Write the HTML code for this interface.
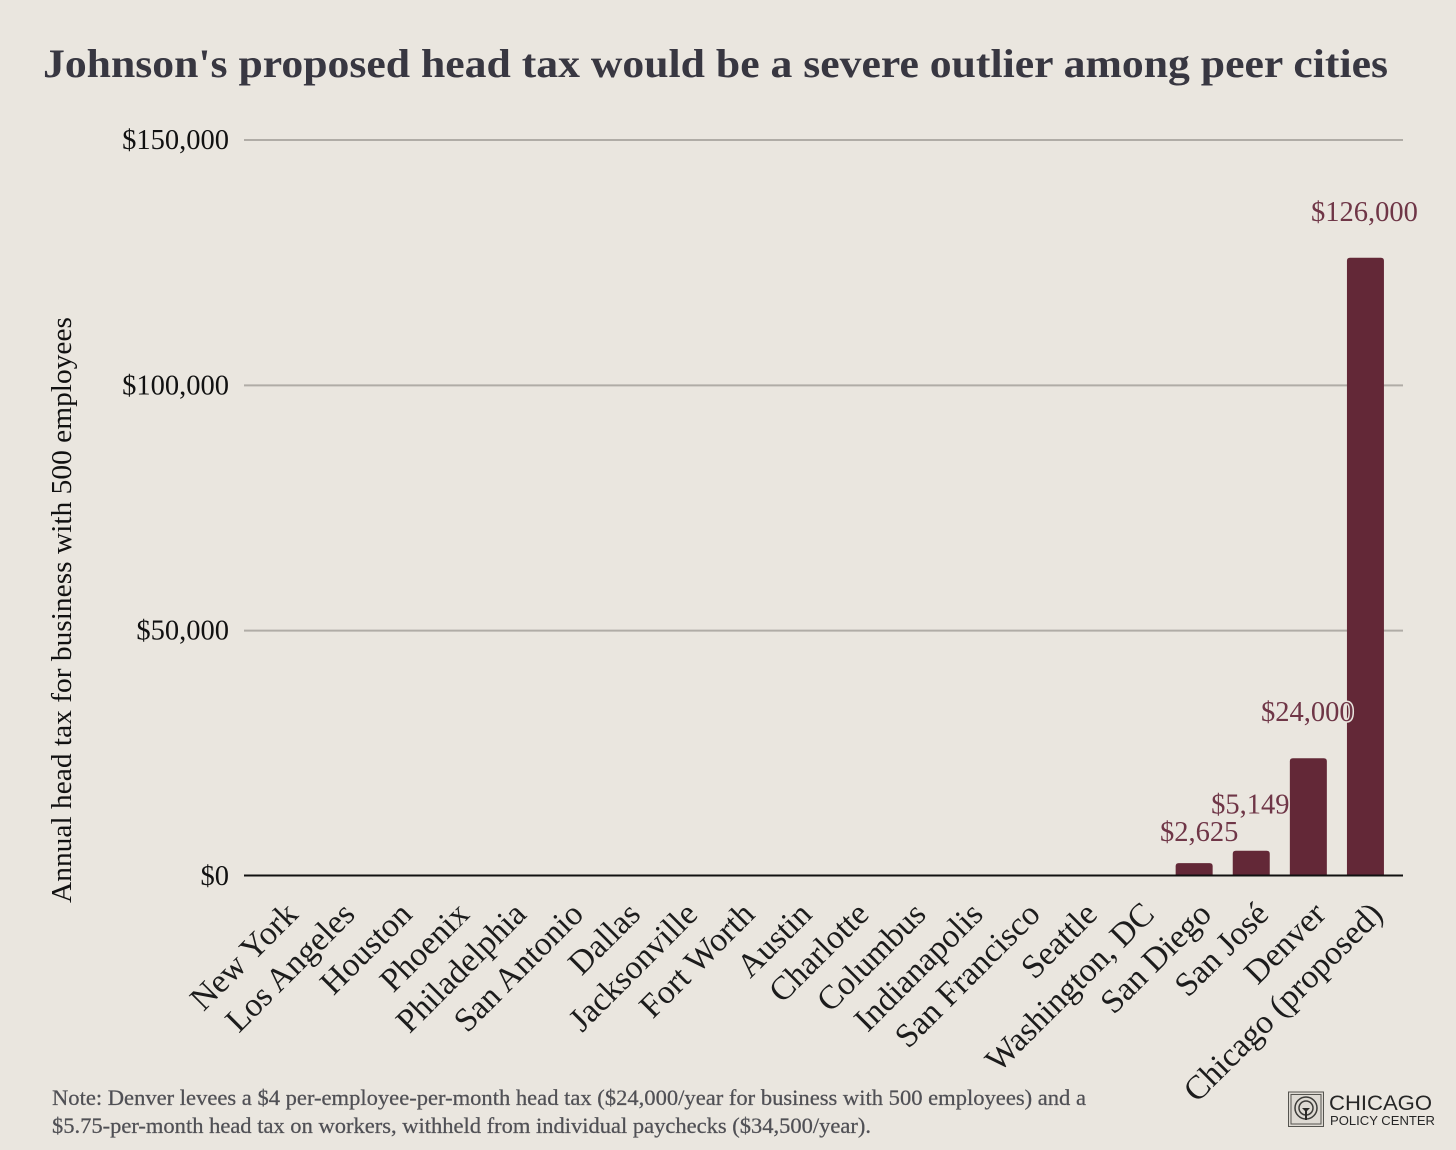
<!DOCTYPE html>
<html lang="en">
<head>
<meta charset="utf-8">
<title>Johnson's proposed head tax would be a severe outlier among peer cities</title>
<style>
html,body{margin:0;padding:0;background:#eae6df;}
svg{display:block;}
text{font-family:"Liberation Serif",serif;}
</style>
</head>
<body>
<svg id="chart" width="1456" height="1150" viewBox="0 0 1456 1150" xmlns="http://www.w3.org/2000/svg">
  <rect x="0" y="0" width="1456" height="1150" fill="#eae6df"/>
  <text x="43" y="77" font-size="40" font-weight="700" fill="#383741" textLength="1345" lengthAdjust="spacingAndGlyphs">Johnson's proposed head tax would be a severe outlier among peer cities</text>
  <text transform="translate(71 903) rotate(-90)" font-size="28" fill="#111" textLength="586" lengthAdjust="spacingAndGlyphs">Annual head tax for business with 500 employees</text>
  <g id="grid"></g>
  <g id="yticks"></g>
  <g id="bars"></g>
  <g id="baseline"></g>
  <g id="values"></g>
  <g id="xticks"></g>
  <text x="52" y="1105" font-size="22" font-weight="400" fill="#505055" stroke="#505055" stroke-width="0.25" textLength="1034" lengthAdjust="spacingAndGlyphs">Note: Denver levees a $4 per-employee-per-month head tax ($24,000/year for business with 500 employees) and a</text>
  <text x="52" y="1133" font-size="22" font-weight="400" fill="#505055" stroke="#505055" stroke-width="0.25" textLength="819" lengthAdjust="spacingAndGlyphs">$5.75-per-month head tax on workers, withheld from individual paychecks ($34,500/year).</text>
  <g>
    <rect x="1288.5" y="1092" width="35" height="34.500" fill="#dedad3" stroke="#55544f" stroke-width="1"/>
    <rect x="1291" y="1094.500" width="30" height="29.500" fill="none" stroke="#55544f" stroke-width="1"/>
    <circle cx="1306" cy="1108" r="11" fill="none" stroke="#3d3c39" stroke-width="1.500"/>
    <circle cx="1306" cy="1108" r="7" fill="none" stroke="#3d3c39" stroke-width="1.500"/>
    <path d="M1302 1108h8l-3 3v9h-2v-9z" fill="#2b2a28"/>
    <text x="1329" y="1110" font-size="21.500" fill="#262626" style="font-family:'Liberation Sans',sans-serif" textLength="103" lengthAdjust="spacingAndGlyphs">CHICAGO</text>
    <text x="1330" y="1125" font-size="13" fill="#262626" style="font-family:'Liberation Sans',sans-serif" textLength="105" lengthAdjust="spacingAndGlyphs">POLICY CENTER</text>
  </g>
</svg>
<script>
const categories = ["New York","Los Angeles","Houston","Phoenix","Philadelphia","San Antonio","Dallas","Jacksonville","Fort Worth","Austin","Charlotte","Columbus","Indianapolis","San Francisco","Seattle","Washington, DC","San Diego","San José","Denver","Chicago (proposed)"];
const taxValues = [0,0,0,0,0,0,0,0,0,0,0,0,0,0,0,0,2625,5149,24000,126000];
const valueLabels = ["","","","","","","","","","","","","","","","","$2,625","$5,149","$24,000","$126,000"];
const yTickValues = [0,50000,100000,150000];
const yTickLabels = ["$0","$50,000","$100,000","$150,000"];

const NS = "http://www.w3.org/2000/svg";
const plot = {left:244, right:1403, top:140, bottom:876, bandLeft:252, bandRight:1394, yMax:150000};
const bandStep = (plot.bandRight - plot.bandLeft) / categories.length;
const barWidth = 37;
function xScale(i){ return plot.bandLeft + bandStep * (i + 0.5); }
function yScale(v){ return plot.bottom - (v / plot.yMax) * (plot.bottom - plot.top); }
function make(tag, parentId){
  const el = document.createElementNS(NS, tag);
  document.getElementById(parentId).appendChild(el);
  return el;
}

yTickValues.forEach(function(v, i){
  if (v !== 0) {
    const line = make("line", "grid");
    
    
    line.setAttribute("x1", plot.left);
    line.setAttribute("x2", plot.right);
    line.setAttribute("y1", yScale(v));
    line.setAttribute("y2", yScale(v));
    line.setAttribute("stroke", "#b0aca6");
    line.setAttribute("stroke-width", "2");
  }
  const label = make("text", "yticks");
  
  
  label.setAttribute("x", 229);
  label.setAttribute("y", yScale(v) + 9);
  label.setAttribute("text-anchor", "end");
  label.setAttribute("font-size", "28.500");
  label.setAttribute("fill", "#111");
  label.textContent = yTickLabels[i];
});

taxValues.forEach(function(v, i){
  if (v <= 0) return;
  const cx = xScale(i), top = yScale(v), r = 3, hw = barWidth / 2;
  const bar = make("path", "bars");
  
  
  bar.setAttribute("d", "M" + (cx - hw) + " " + plot.bottom + "V" + (top + r) + "Q" + (cx - hw) + " " + top + " " + (cx - hw + r) + " " + top + "H" + (cx + hw - r) + "Q" + (cx + hw) + " " + top + " " + (cx + hw) + " " + (top + r) + "V" + plot.bottom + "Z");
  bar.setAttribute("fill", "#632837");
});

const axis = make("line", "baseline");


axis.setAttribute("x1", plot.left);
axis.setAttribute("x2", plot.right);
axis.setAttribute("y1", plot.bottom - 0.5);
axis.setAttribute("y2", plot.bottom - 0.5);
axis.setAttribute("stroke", "#111111");
axis.setAttribute("stroke-width", "2");

taxValues.forEach(function(v, i){
  if (v <= 0) return;
  const nudged = v < 5000;
  const label = make("text", "values");
  
  
  label.setAttribute("x", xScale(i) + (nudged ? 5 : -1));
  label.setAttribute("y", yScale(v) - (nudged ? 22 : 37));
  label.setAttribute("text-anchor", "middle");
  label.setAttribute("font-size", "28.500");
  label.setAttribute("fill", "#6f3647");
  label.setAttribute("stroke", "#eae6df");
  label.setAttribute("stroke-width", "3");
  label.setAttribute("paint-order", "stroke");
  label.textContent = valueLabels[i];
});

categories.forEach(function(name, i){
  const label = make("text", "xticks");
  
  
  const ax = xScale(i) + 19, ay = 916;
  label.setAttribute("transform", "translate(" + ax + " " + ay + ") rotate(-45)");
  label.setAttribute("text-anchor", "end");
  label.setAttribute("font-size", "33.500");
  label.setAttribute("fill", "#1c1c1c");
  label.textContent = name;
});
</script>
</body>
</html>
